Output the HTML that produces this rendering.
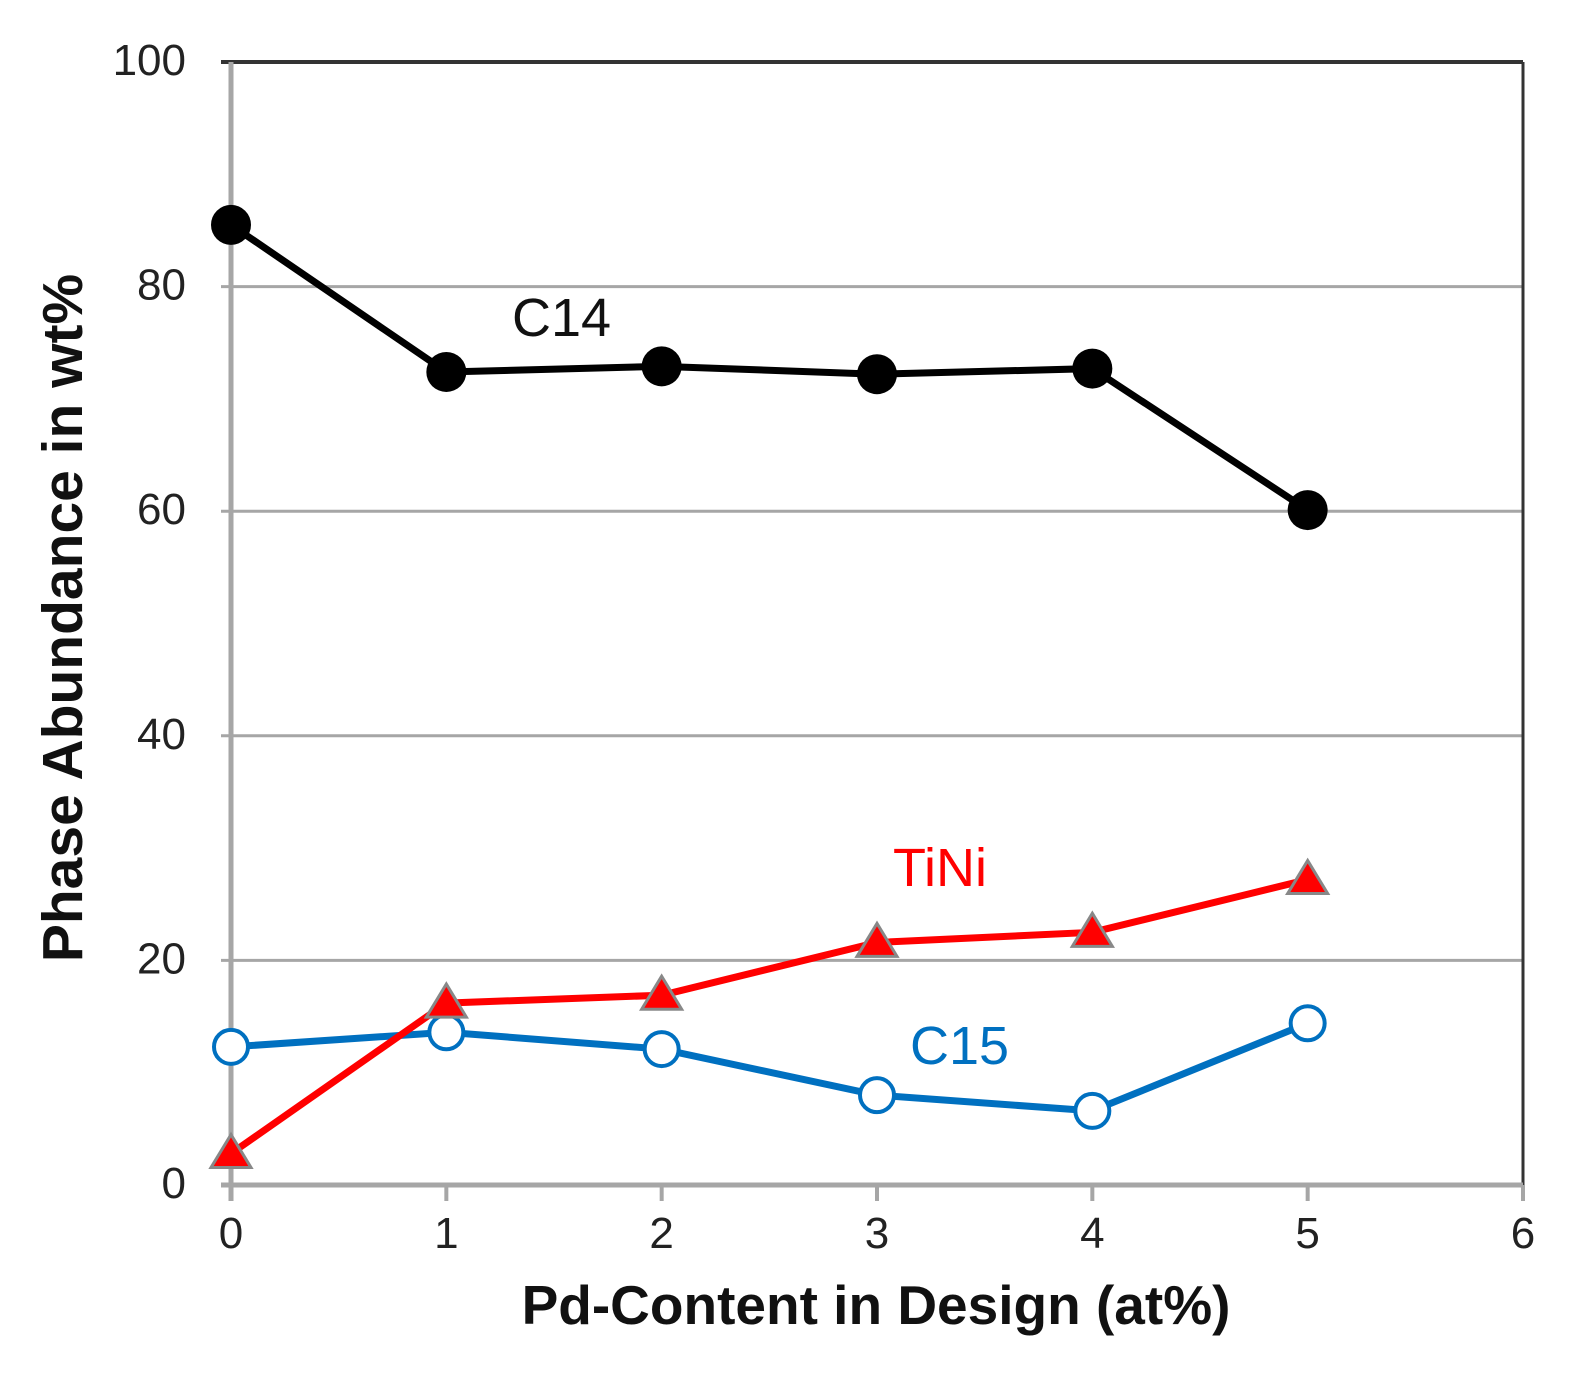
<!DOCTYPE html>
<html><head><meta charset="utf-8"><style>
body{margin:0;background:#fff;}
svg text{font-family:"Liberation Sans",sans-serif;}
</style></head><body>
<svg id="chart" width="1590" height="1385" viewBox="0 0 1590 1385">
<g id="grid"></g><g id="axes"></g><g id="series"></g><g id="labels"></g>
</svg>
<script>
const xTicks=[0,1,2,3,4,5,6];
const yTicks=[0,20,40,60,80,100];
const pd=[0,1,2,3,4,5];
const c14=[85.5,72.4,72.9,72.2,72.7,60.1];
const tini=[2.8,16.2,16.9,21.6,22.5,27.2];
const c15=[12.3,13.6,12.1,8.0,6.6,14.4];
const NS="http://www.w3.org/2000/svg";
const X0=231,X1=1523,Y0=1185,Y1=62;
function xs(v){return X0+(v-0)/(6-0)*(X1-X0);}
function ys(v){return Y0-(v/100)*(Y0-Y1);}
function mk(tag,attrs,parent,text){const e=document.createElementNS(NS,tag);for(const k in attrs)e.setAttribute(k,attrs[k]);if(text!==undefined)e.textContent=text;parent.appendChild(e);return e;}
const grid=document.getElementById('grid'),axes=document.getElementById('axes'),ser=document.getElementById('series'),lab=document.getElementById('labels');
yTicks.forEach(t=>{
  if(t>0&&t<100){const l=mk('line',{x1:X0-10,x2:X1,y1:ys(t),y2:ys(t),stroke:'#a6a6a6','stroke-width':3},grid);
  
  }
  const tx=mk('text',{x:186,y:ys(t)+13,'text-anchor':'end','font-size':44,fill:'#222'},lab,String(t));
  
  
});
xTicks.forEach(t=>{
  const l=mk('line',{x1:xs(t),x2:xs(t),y1:Y0,y2:Y0+16,stroke:'#a6a6a6','stroke-width':4},axes);
  
  
  const tx=mk('text',{x:xs(t),y:1248,'text-anchor':'middle','font-size':44,fill:'#222'},lab,String(t));
  
  
});
let a;
a=mk('line',{x1:X0-10,x2:X1,y1:Y1,y2:Y1,stroke:'#333','stroke-width':4},axes);
a=mk('line',{x1:X1,x2:X1,y1:Y1,y2:Y0,stroke:'#333','stroke-width':3},axes);
a=mk('line',{x1:X0,x2:X0,y1:Y1,y2:Y0+16,stroke:'#a6a6a6','stroke-width':5},axes);
a=mk('line',{x1:X0-10,x2:X1,y1:Y0,y2:Y0,stroke:'#a6a6a6','stroke-width':5},axes);
function pts(arr){return pd.map((p,i)=>xs(p)+','+ys(arr[i])).join(' ');}
let pl;
pl=mk('polyline',{points:pts(c15),fill:'none',stroke:'#0070c0','stroke-width':7},ser);
pl=mk('polyline',{points:pts(tini),fill:'none',stroke:'#ff0000','stroke-width':7},ser);
pl=mk('polyline',{points:pts(c14),fill:'none',stroke:'#000','stroke-width':7},ser);
pd.forEach((p,i)=>{
  const c=mk('circle',{cx:xs(p),cy:ys(c15[i]),r:17,fill:'#fff',stroke:'#0070c0','stroke-width':4},ser);
  
  
  const x=xs(p),y=ys(tini[i]);
  const t=mk('polygon',{points:(x)+','+(y-19)+' '+(x-20)+','+(y+14)+' '+(x+20)+','+(y+14),fill:'#ff0000',stroke:'#888','stroke-width':3},ser);
  
  
  const k=mk('circle',{cx:xs(p),cy:ys(c14[i]),r:20,fill:'#000'},ser);
  
  
});
let t;
t=mk('text',{x:512,y:336,'font-size':54,fill:'#111'},lab,'C14');
t=mk('text',{x:893,y:886,'font-size':54,fill:'#ff0000'},lab,'TiNi');
t=mk('text',{x:910,y:1064,'font-size':54,fill:'#0070c0'},lab,'C15');
t=mk('text',{x:876,y:1324,'text-anchor':'middle','font-size':55,'font-weight':'bold',fill:'#111'},lab,'Pd-Content in Design (at%)');
t=mk('text',{x:0,y:0,'text-anchor':'middle','font-size':57,'font-weight':'bold',fill:'#111',transform:'translate(82,618) rotate(-90)'},lab,'Phase Abundance in wt%');
</script>
</body></html>
